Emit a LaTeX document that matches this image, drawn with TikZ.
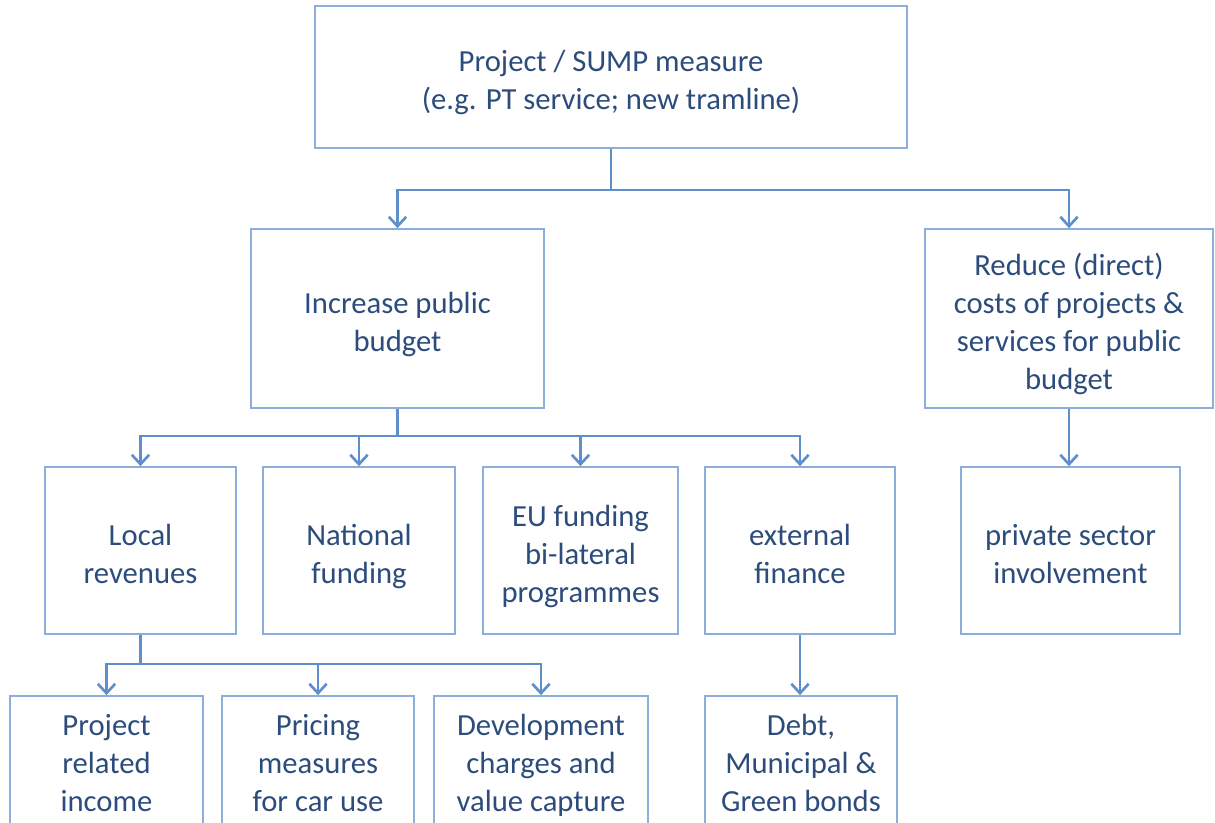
\documentclass[tikz,border=0pt]{standalone}
\usepackage{fontspec}
\setmainfont{Carlito}
\usetikzlibrary{arrows.meta}
\definecolor{boxc}{HTML}{8DAEDB}
\definecolor{arrc}{HTML}{5E8FCC}
\definecolor{txtc}{HTML}{2C4C7C}
\newcommand\sx{\rule[-6.25pt]{0pt}{28.5pt}}
\newcommand\sz{\rule[-4pt]{0pt}{28.5pt}}
\tikzset{
  box/.style={draw=boxc, line width=1.3pt, text=txtc, align=center, inner sep=0pt,
    font=\fontsize{23}{28.5}\selectfont},
  conn/.style={draw=arrc, line width=2pt},
  arr/.style={conn, -{Straight Barb[length=7pt,width=13pt,line width=2pt]}}
}
\begin{document}
\begin{tikzpicture}[x=0.75pt,y=-0.75pt]
\useasboundingbox (0,0) rectangle (1215,823);
\node[box, minimum width=592*0.75pt, minimum height=142*0.75pt] (top) at (611,77)
  {\sz Project / SUMP measure\\\sz (e.g. PT service; new tramline)};
\node[box, minimum width=293*0.75pt, minimum height=179*0.75pt] (inc) at (397.5,318.5)
  {\sz Increase public\\\sz budget};
\node[box, minimum width=288*0.75pt, minimum height=179*0.75pt] (red) at (1069,318.5)
  {\sz Reduce (direct)\\\sz costs of projects \&\\\sz services for public\\\sz budget};
\node[box, minimum width=191*0.75pt, minimum height=167*0.75pt] (loc) at (140.5,550.5)
  {\sz Local\\\sz revenues};
\node[box, minimum width=192*0.75pt, minimum height=167*0.75pt] (nat) at (359,550.5)
  {\sz National\\\sz funding};
\node[box, minimum width=195*0.75pt, minimum height=167*0.75pt] (eu) at (580.5,550.5)
  {\sz EU funding\\\sz bi-lateral\\\sz programmes};
\node[box, minimum width=190*0.75pt, minimum height=167*0.75pt] (ext) at (800,550.5)
  {\sz external\\\sz finance};
\node[box, minimum width=219*0.75pt, minimum height=167*0.75pt] (priv) at (1070.5,550.5)
  {\sz private sector\\\sz involvement};
\node[box, minimum width=193*0.75pt, minimum height=134*0.75pt] (pri) at (106.5,763)
  {\sx Project\\\sx related\\\sx income};
\node[box, minimum width=192*0.75pt, minimum height=134*0.75pt] (pric) at (318,763)
  {\sx Pricing\\\sx measures\\\sx for car use};
\node[box, minimum width=214*0.75pt, minimum height=134*0.75pt] (dev) at (541,763)
  {\sx Development\\\sx charges and\\\sx value capture};
\node[box, minimum width=192*0.75pt, minimum height=134*0.75pt] (debt) at (801,763)
  {\sx Debt,\\\sx Municipal \&\\\sx Green bonds};
\coordinate (j1) at (611,190);
\draw[conn] (top.south) -- (j1);
\draw[arr] (j1) -| (inc.north);
\draw[arr] (j1) -| (red.north);
\coordinate (j2) at (397.5,436);
\draw[conn] (inc.south) -- (j2);
\draw[arr] (j2) -| (loc.north);
\draw[arr] (j2) -| (nat.north);
\draw[arr] (j2) -| (eu.north);
\draw[arr] (j2) -| (ext.north);
\draw[arr] (red.south) -- (red.south |- priv.north);
\coordinate (j3) at (140.5,664);
\draw[conn] (loc.south) -- (j3);
\draw[arr] (j3) -| (pri.north);
\draw[arr] (j3) -| (pric.north);
\draw[arr] (j3) -| (dev.north);
\draw[arr] (ext.south) -- (ext.south |- debt.north);
\end{tikzpicture}
\end{document}
